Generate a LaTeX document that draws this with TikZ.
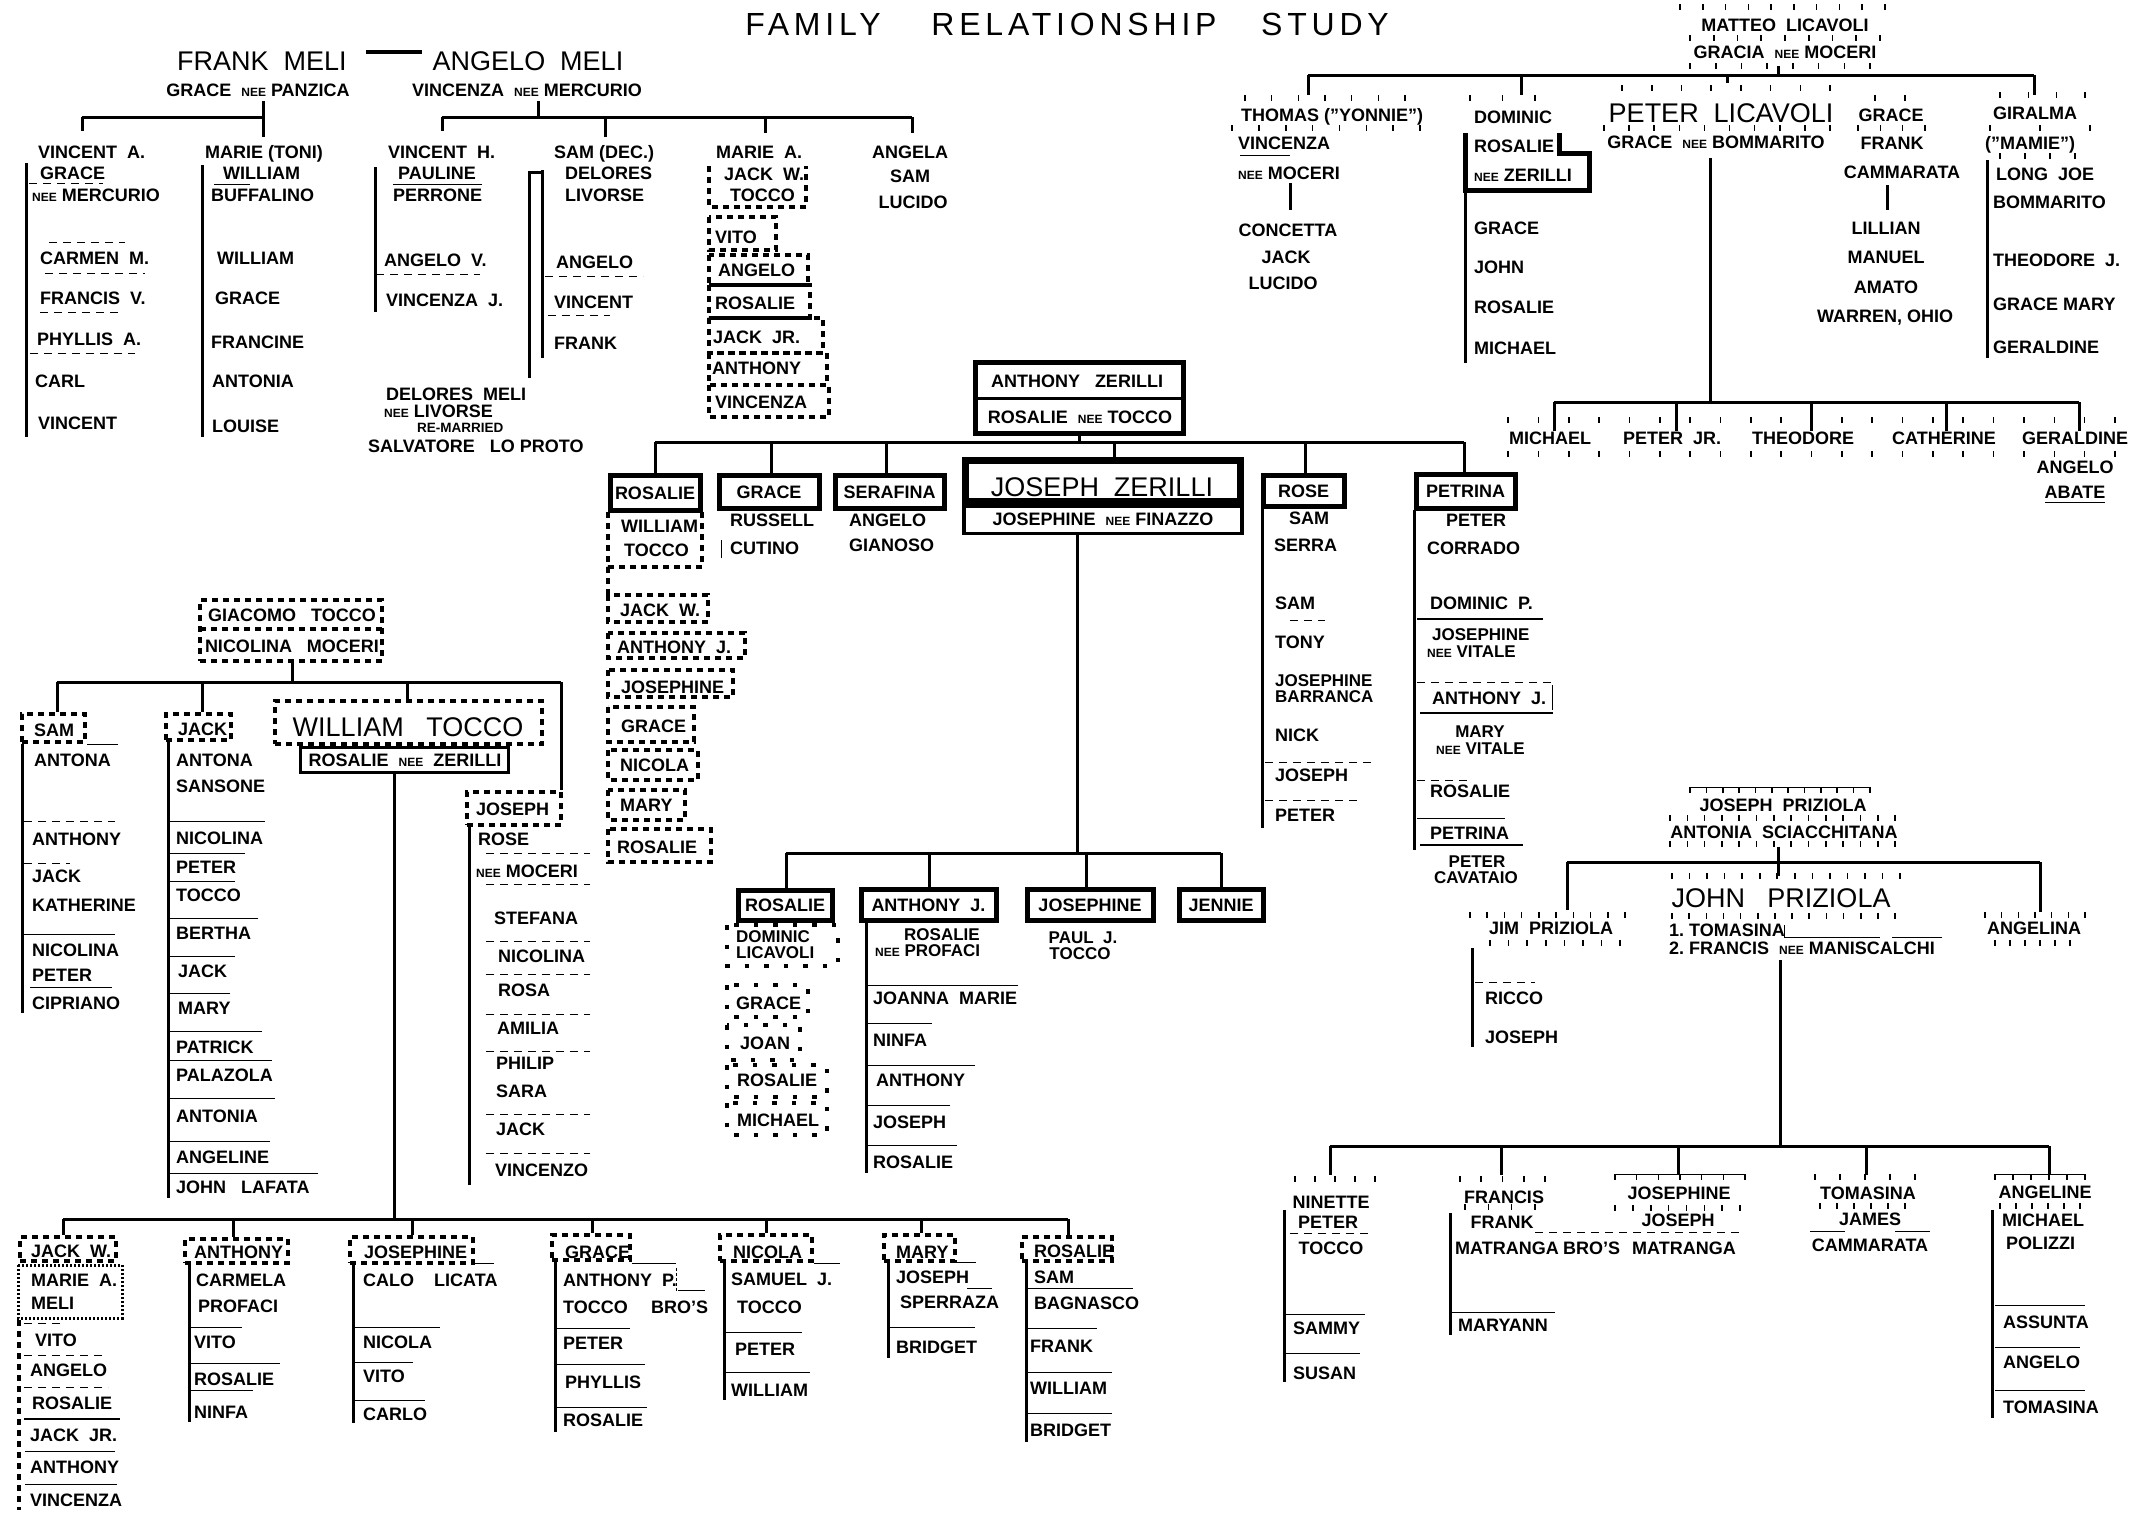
\documentclass[tikz,border=0pt]{standalone}
\usepackage{fontspec}
\setmainfont{Liberation Sans}
\newfontfamily\titlefont[LetterSpace=15]{Liberation Sans}
\usetikzlibrary{calc}
\newcommand{\nee}{{\fontsize{12}{12}\selectfont NEE}}
\newcommand{\tickrow}[4]{\foreach \ti in {0,...,#4}{\draw[tk] ({#1+\ti*(#2-#1)/#4},{#3-3}) -- ++(0,6);}}
\begin{document}
\begin{tikzpicture}[x=1pt,y=-1pt,
 conn/.style={line width=3pt},
 colr/.style={line width=3pt},
 sepl/.style={line width=1pt},
 fsep/.style={line width=1pt, dash pattern=on 8pt off 6pt},
 tk/.style={line width=1.6pt},
 tbox/.style={draw, line width=5pt, inner sep=0pt, font=\fontsize{18}{20}\selectfont\bfseries, text height=13pt, text depth=0pt},
 dbox/.style={line width=4.5pt, dash pattern=on 6pt off 5pt},
 dotbox/.style={line width=4.5pt, dash pattern=on 4.5pt off 15pt},
 nm/.style={font=\fontsize{18}{20}\selectfont\bfseries, inner sep=0pt, anchor=west, text height=13pt, text depth=0pt},
 nc/.style={font=\fontsize{18}{20}\selectfont\bfseries, inner sep=0pt, text height=13pt, text depth=0pt},
 ns/.style={font=\fontsize{17}{18}\selectfont\bfseries, inner sep=0pt, text height=12.2pt, text depth=0pt},
 nsw/.style={ns, anchor=west},
 big/.style={font=\fontsize{27}{29}\selectfont, inner sep=0pt, text height=19.5pt, text depth=0pt},
 sm/.style={font=\fontsize{13.5}{14}\selectfont\bfseries, inner sep=0pt, anchor=west, text height=9.7pt, text depth=0pt},
 titlef/.style={font=\titlefont\fontsize{32}{34}\selectfont, inner sep=0pt, text height=23pt, text depth=0pt}]
\useasboundingbox (0,0) rectangle (2145,1513);
\fill[white] (0,0) rectangle (2145,1513);

% ---------- title
\node[titlef] (title1) at (813,24) {FAMILY};
\node[titlef] (title2) at (1074,24) {RELATIONSHIP};
\node[titlef] (title3) at (1325,24) {STUDY};

% ---------- Meli
\node[big] (fm) at (262,61) {FRANK\ \ MELI};
\node[nc] (fmw) at (258,90) {GRACE\ \ \nee\ PANZICA};
\node[big] (am) at (528,61) {ANGELO\ \ MELI};
\node[nc] (amw) at (527,90) {VINCENZA\ \ \nee\ MERCURIO};
\coordinate (fmL) at (366,52); \coordinate (amR) at (422,52);
\draw[line width=4pt] (fmL) -- (amR);

\coordinate (fA) at (263,101); \coordinate (fB) at (263,137); \coordinate (fC) at (263,117);
\coordinate (fD) at (82,117); \coordinate (fE) at (82,131);
\draw[conn] (fA) -- (fB); \draw[conn] (fD) -- (fC); \draw[conn] (fD) -- (fE);

\coordinate (aA) at (538,101); \coordinate (aB) at (538,117);
\coordinate (aL) at (442,117); \coordinate (aR) at (912,117);
\coordinate (aV) at (442,131); \coordinate (aS1) at (605,117); \coordinate (aS2) at (605,137);
\coordinate (aM1) at (765,117); \coordinate (aM2) at (765,133); \coordinate (aG) at (912,133);
\draw[conn] (aA) -- (aB); \draw[conn] (aL) -- (aR); \draw[conn] (aL) -- (aV);
\draw[conn] (aS1) -- (aS2); \draw[conn] (aM1) -- (aM2); \draw[conn] (aR) -- (aG);

% Vincent A.
\node[nm] (va1) at (38,152) {VINCENT\ \ A.};
\node[nm] (va2) at (40,173) {GRACE};
\node[nm] (va3) at (32,195) {\nee\ MERCURIO};
\node[nm] (va4) at (40,258) {CARMEN\ \ M.};
\node[nm] (va5) at (40,298) {FRANCIS\ \ V.};
\node[nm] (va6) at (37,339) {PHYLLIS\ \ A.};
\node[nm] (va7) at (35,381) {CARL};
\node[nm] (va8) at (38,423) {VINCENT};
\draw[colr] (26,163) -- (26,437);
\draw[fsep] (29,183) -- (103,183);
\draw[fsep] (49,242) -- (125,242);
\draw[fsep] (45,273) -- (145,273);
\draw[fsep] (40,312) -- (120,312);
\draw[fsep] (30,353) -- (135,353);

% Marie (Toni)
\node[nm] (mt1) at (205,152) {MARIE\ (TONI)};
\node[nm] (mt2) at (223,173) {WILLIAM};
\node[nm] (mt3) at (211,195) {BUFFALINO};
\node[nm] (mt4) at (217,258) {WILLIAM};
\node[nm] (mt5) at (215,298) {GRACE};
\node[nm] (mt6) at (211,342) {FRANCINE};
\node[nm] (mt7) at (212,381) {ANTONIA};
\node[nm] (mt8) at (212,426) {LOUISE};
\draw[colr] (202,165) -- (202,437);
\draw[sepl] (214,184) -- (250,184);

% Vincent H.
\node[nm] (vh1) at (388,152) {VINCENT\ \ H.};
\node[nc] (vh2) at (437,173) {PAULINE};
\draw[sepl] (393,184) -- (482,184);
\node[nm] (vh3) at (393,195) {PERRONE};
\node[nm] (vh4) at (384,260) {ANGELO\ \ V.};
\node[nm] (vh5) at (386,300) {VINCENZA\ \ J.};
\draw[colr] (375,167) -- (375,312);
\draw[fsep] (376,274) -- (480,274);

% Sam (Dec.)
\node[nm] (sd1) at (554,152) {SAM\ (DEC.)};
\node[nm] (sd2) at (565,173) {DELORES};
\node[nm] (sd3) at (565,195) {LIVORSE};
\node[nm] (sd4) at (556,262) {ANGELO};
\node[nm] (sd5) at (554,302) {VINCENT};
\node[nm] (sd6) at (554,343) {FRANK};
\draw[colr] (542,170) -- (542,358);
\coordinate (dl1) at (542,172); \coordinate (dl2) at (529,172); \coordinate (dl3) at (529,378);
\draw[conn] (dl1) -- (dl2) -- (dl3);
\draw[fsep] (545,276) -- (643,276);
\draw[fsep] (548,315) -- (610,315);

% Delores Meli
\node[nm] (dm1) at (386,394) {DELORES\ \ MELI};
\node[nm] (dm2) at (384,411) {\nee\ LIVORSE};
\node[sm] (dm3) at (417,428) {RE-MARRIED};
\node[nm] (dm4) at (368,446) {SALVATORE\ \ \ LO PROTO};

% Marie A.
\node[nm] (ma1) at (716,152) {MARIE\ \ A.};
\node[nm] (ma2) at (724,174) {JACK\ \ W.};
\node[nm] (ma3) at (730,195) {TOCCO};
\node[nm] (ma4) at (715,237) {VITO};
\node[nm] (ma5) at (718,270) {ANGELO};
\node[nm] (ma6) at (715,303) {ROSALIE};
\node[nm] (ma7) at (713,337) {JACK\ \ JR.};
\node[nm] (ma8) at (712,368) {ANTHONY};
\node[nm] (ma9) at (715,402) {VINCENZA};
\draw[dbox] (709,166) -- (709,207) -- (806,207) -- (806,166);
\draw[dbox] (709,217) rectangle (776,250);
\draw[dbox] (709,255) rectangle (808,285);
\draw[dbox] (709,285) rectangle (810,318);
\draw[dbox] (709,318) rectangle (823,353);
\draw[dbox] (709,353) rectangle (827,385);
\draw[dbox] (709,385) rectangle (829,417);

% Angela
\node[nc] (an1) at (910,152) {ANGELA};
\node[nc] (an2) at (910,176) {SAM};
\node[nc] (an3) at (913,202) {LUCIDO};

% ---------- Anthony Zerilli
\node[draw, line width=5pt, minimum width=208pt, minimum height=71pt, inner sep=0pt] (azbox) at (1079,397.5) {};
\draw[line width=3pt] (975,398) -- (1183,398);
\node[nc] (az1) at (1077,381) {ANTHONY\ \ \ ZERILLI};
\node[nc] (az2) at (1080,417) {ROSALIE\ \ \nee\ TOCCO};

\node[tbox, minimum width=90pt, minimum height=35pt] (zr1) at (655,492.5) {ROSALIE};
\node[tbox, minimum width=100pt, minimum height=33pt] (zr2) at (769,491.5) {GRACE};
\node[tbox, minimum width=109pt, minimum height=33pt] (zr3) at (889.5,491.5) {SERAFINA};
\node[draw, line width=7pt, minimum width=275pt, minimum height=41pt, inner sep=0pt] (jzt) at (1103,481) {};
\node[draw, line width=3.5pt, minimum width=278pt, minimum height=27pt, inner sep=0pt] (jzb) at (1103,520) {};
\node[big] (jz0) at (1102,487) {JOSEPH\ \ ZERILLI};
\node[nc] (jz00) at (1103,519) {JOSEPHINE\ \ \nee\ FINAZZO};
\node[tbox, minimum width=81pt, minimum height=31pt] (zr5) at (1303.5,490.5) {ROSE};
\node[tbox, minimum width=99pt, minimum height=34pt] (zr6) at (1465.5,491) {PETRINA};

\coordinate (zA) at (1079,442); \coordinate (zL) at (655,442); \coordinate (zR) at (1464,442);
\coordinate (z2) at (771,442); \coordinate (z3) at (886,442); \coordinate (z4) at (1114,442); \coordinate (z5) at (1305,442);
\draw[conn] (azbox.south) -- (zA); \draw[conn] (zL) -- (zR);
\draw[conn] (zL) -- (zL |- zr1.north); \draw[conn] (z2) -- (z2 |- zr2.north);
\draw[conn] (z3) -- (z3 |- zr3.north); \draw[conn] (z4) -- (z4 |- jzt.north);
\draw[conn] (z5) -- (z5 |- zr5.north); \draw[conn] (zR) -- (zR |- zr6.north);

% Rosalie & William Tocco
\node[nm] (rt1) at (621,526) {WILLIAM};
\node[nm] (rt2) at (624,550) {TOCCO};
\draw[dbox] (608,512) -- (608,567) -- (702,567) -- (702,512);
\draw[dbox] (608,567) -- (608,595);
\node[nm] (rt3) at (620,610) {JACK\ \ W.};
\node[nm] (rt4) at (617,647) {ANTHONY\ \ J.};
\node[nm] (rt5) at (621,687) {JOSEPHINE};
\node[nm] (rt6) at (621,726) {GRACE};
\node[nm] (rt7) at (620,765) {NICOLA};
\node[nm] (rt8) at (620,805) {MARY};
\node[nm] (rt9) at (617,847) {ROSALIE};
\draw[dbox] (608,595) rectangle (708,622);
\draw[dbox] (608,633) rectangle (745,658);
\draw[dbox] (608,670) rectangle (733,697);
\draw[dbox] (608,707) rectangle (694,742);
\draw[dbox] (608,750) rectangle (698,780);
\draw[dbox] (608,790) rectangle (685,820);
\draw[dbox] (608,829) rectangle (711,862);

% Grace Russell Cutino
\node[nm] (gc1) at (730,520) {RUSSELL};
\node[nm] (gc2) at (730,548) {CUTINO};
\draw[sepl] (721,540) -- (721,558);
% Serafina
\node[nm] (sf1) at (849,520) {ANGELO};
\node[nm] (sf2) at (849,545) {GIANOSO};

% Rose
\node[nm] (ro1) at (1289,518) {SAM};
\node[nm] (ro2) at (1274,545) {SERRA};
\draw[colr] (1262,508) -- (1262,828);
\node[nm] (ro3) at (1275,603) {SAM};
\node[nm] (ro4) at (1275,642) {TONY};
\node[nsw] (ro5) at (1275,680) {JOSEPHINE};
\node[nsw] (ro6) at (1275,696) {BARRANCA};
\node[nm] (ro7) at (1275,735) {NICK};
\node[nm] (ro8) at (1275,775) {JOSEPH};
\node[nm] (ro9) at (1275,815) {PETER};
\draw[fsep] (1290,620) -- (1325,620);
\draw[fsep] (1265,762) -- (1375,762);
\draw[fsep] (1265,800) -- (1360,800);

% Petrina
\node[nm] (pe1) at (1446,520) {PETER};
\node[nm] (pe2) at (1427,548) {CORRADO};
\draw[colr] (1414,510) -- (1414,850);
\node[nm] (pe3) at (1430,603) {DOMINIC\ \ P.};
\draw[line width=2.5pt] (1417,619) -- (1543,619);
\node[nsw] (pe4) at (1432,634) {JOSEPHINE};
\node[nsw] (pe5) at (1427,651) {\nee\ VITALE};
\draw[fsep] (1417,682) -- (1555,682);
\node[nm] (pe6) at (1432,698) {ANTHONY\ \ J.};
\draw[sepl] (1552,685) -- (1552,710);
\draw[line width=2.5pt] (1420,713) -- (1553,713);
\node[ns] (pe7) at (1480,731) {MARY};
\node[nsw] (pe8) at (1436,748) {\nee\ VITALE};
\draw[fsep] (1417,780) -- (1470,780);
\node[nm] (pe9) at (1430,791) {ROSALIE};
\draw[sepl] (1417,818) -- (1505,818);
\node[nm] (pe10) at (1430,833) {PETRINA};
\draw[line width=2.5pt] (1420,845) -- (1523,845);
\node[ns] (pe11) at (1477,861) {PETER};
\node[ns] (pe12) at (1476,877) {CAVATAIO};

% ---------- Joseph Zerilli's children
\coordinate (jB) at (1077,853); \coordinate (jL) at (786,853); \coordinate (jR) at (1221,853);
\coordinate (j2) at (929,853); \coordinate (j3) at (1086,853);
\draw[conn] (jzb.south -| jB) -- (jB); \draw[conn] (jL) -- (jR);
\node[tbox, minimum width=94pt, minimum height=30pt] (jz1) at (785,905) {ROSALIE};
\node[tbox, minimum width=135pt, minimum height=31pt] (jz2) at (928.5,904.5) {ANTHONY\ \ J.};
\node[tbox, minimum width=126pt, minimum height=31pt] (jz3) at (1090,904.5) {JOSEPHINE};
\node[tbox, minimum width=84pt, minimum height=31pt] (jz4) at (1221,904.5) {JENNIE};
\draw[conn] (jL) -- (jL |- jz1.north); \draw[conn] (j2) -- (j2 |- jz2.north);
\draw[conn] (j3) -- (j3 |- jz3.north); \draw[conn] (jR) -- (jR |- jz4.north);

% Rosalie & Dominic Licavoli
\node[nsw] (rl1) at (736,936) {DOMINIC};
\node[nsw] (rl2) at (736,952) {LICAVOLI};
\draw[dotbox] (727,925) rectangle (838,966);
\node[nm] (rl3) at (736,1003) {GRACE};
\draw[dotbox] (727,985) rectangle (808,1017);
\node[nm] (rl4) at (740,1043) {JOAN};
\draw[dotbox] (727,1025) rectangle (800,1060);
\node[nm] (rl5) at (737,1080) {ROSALIE};
\draw[dotbox] (727,1065) rectangle (827,1097);
\node[nm] (rl6) at (737,1120) {MICHAEL};
\draw[dotbox] (727,1103) rectangle (827,1135);

% Anthony J. Zerilli
\node[nsw] (aj1) at (904,934) {ROSALIE};
\node[nsw] (aj2) at (875,950) {\nee\ PROFACI};
\draw[colr] (866,922) -- (866,1173);
\node[nm] (aj3) at (873,998) {JOANNA\ \ MARIE};
\node[nm] (aj4) at (873,1040) {NINFA};
\node[nm] (aj5) at (876,1080) {ANTHONY};
\node[nm] (aj6) at (873,1122) {JOSEPH};
\node[nm] (aj7) at (873,1162) {ROSALIE};
\draw[sepl] (868,985) -- (1018,985);
\draw[sepl] (868,1023) -- (932,1023);
\draw[sepl] (868,1065) -- (975,1065);
\draw[sepl] (868,1105) -- (950,1105);
\draw[sepl] (868,1145) -- (957,1145);

% Josephine / Paul J. Tocco
\node[ns] (jp1) at (1083,937) {PAUL\ \ J.};
\node[ns] (jp2) at (1080,953) {TOCCO};

% ---------- Giacomo Tocco
\node[draw, dbox, minimum width=182pt, minimum height=61pt, inner sep=0pt] (gtbox) at (291,630.5) {};
\draw[dbox] (200,629) -- (382,629);
\node[nc] (gt1) at (292,615) {GIACOMO\ \ \ TOCCO};
\node[nc] (gt2) at (292,646) {NICOLINA\ \ \ MOCERI};
\coordinate (gA) at (292,682); \coordinate (gL) at (57,682); \coordinate (gR) at (561,682);
\coordinate (g2) at (202,682); \coordinate (g3) at (407,682);
\draw[conn] (gtbox.south -| gA) -- (gA); \draw[conn] (gL) -- (gR);

% Sam Antona
\node[draw, dbox, minimum width=63pt, minimum height=28pt, inner sep=0pt] (samb) at (53.5,728) {};
\draw[conn] (gL) -- (gL |- samb.north);
\node[nm] (sa1) at (34,730) {SAM};
\draw[sepl] (87,744) -- (118,744);
\node[nm] (sa2) at (34,760) {ANTONA};
\draw[colr] (22,744) -- (22,1013);
\node[nm] (sa3) at (32,839) {ANTHONY};
\node[nm] (sa4) at (32,876) {JACK};
\node[nm] (sa5) at (32,905) {KATHERINE};
\node[nm] (sa6) at (32,950) {NICOLINA};
\node[nm] (sa7) at (32,975) {PETER};
\node[nm] (sa8) at (32,1003) {CIPRIANO};
\draw[fsep] (24,821) -- (115,821);
\draw[fsep] (24,863) -- (70,863);
\draw[sepl] (24,934) -- (115,934);
\draw[sepl] (30,987) -- (112,987);

% Jack Antona
\node[draw, dbox, minimum width=65pt, minimum height=26pt, inner sep=0pt] (jackb) at (198.5,727) {};
\draw[conn] (g2) -- (g2 |- jackb.north);
\node[nm] (ja1) at (178,729) {JACK};
\node[nm] (ja2) at (176,760) {ANTONA};
\node[nm] (ja3) at (176,786) {SANSONE};
\draw[colr] (168,742) -- (168,1198);
\node[nm] (ja4) at (176,838) {NICOLINA};
\node[nm] (ja5) at (176,867) {PETER};
\node[nm] (ja6) at (176,895) {TOCCO};
\node[nm] (ja7) at (176,933) {BERTHA};
\node[nm] (ja8) at (178,971) {JACK};
\node[nm] (ja9) at (178,1008) {MARY};
\node[nm] (ja10) at (176,1047) {PATRICK};
\node[nm] (ja11) at (176,1075) {PALAZOLA};
\node[nm] (ja12) at (176,1116) {ANTONIA};
\node[nm] (ja13) at (176,1157) {ANGELINE};
\node[nm] (ja14) at (176,1187) {JOHN\ \ \ LAFATA};
\foreach \yy/\xx in {821/265,853/245,881/235,918/258,956/235,993/230,1031/262,1060/272,1098/275,1141/270,1173/318}{\draw[sepl] (170,\yy) -- (\xx,\yy);}

% William Tocco
\node[draw, dbox, minimum width=267pt, minimum height=43pt, inner sep=0pt] (wtbox) at (408.5,722.5) {};
\node[draw, line width=3pt, minimum width=208pt, minimum height=25pt, inner sep=0pt] (wrbox) at (404.5,760) {};
\node[big] (wt1) at (408,727) {WILLIAM\ \ \ TOCCO};
\node[nc] (wt2) at (405,760) {ROSALIE\ \ \nee\ \ ZERILLI};
\draw[conn] (g3) -- (g3 |- wtbox.north);

% Joseph Tocco
\node[draw, dbox, minimum width=94pt, minimum height=33pt, inner sep=0pt] (jrbox) at (514,808.5) {};
\draw[conn] (gR) -- (gR |- jrbox.north);
\node[nm] (jr1) at (476,809) {JOSEPH};
\node[nm] (jr2) at (478,839) {ROSE};
\node[nm] (jr3) at (476,871) {\nee\ MOCERI};
\draw[colr] (469,827) -- (469,1185);
\node[nm] (jr4) at (494,918) {STEFANA};
\node[nm] (jr5) at (498,956) {NICOLINA};
\node[nm] (jr6) at (498,990) {ROSA};
\node[nm] (jr7) at (497,1028) {AMILIA};
\node[nm] (jr8) at (496,1063) {PHILIP};
\node[nm] (jr9) at (496,1091) {SARA};
\node[nm] (jr10) at (496,1129) {JACK};
\node[nm] (jr11) at (495,1170) {VINCENZO};
\foreach \yy in {853,884,941,974,1014,1051,1114,1153}{\draw[fsep] (486,\yy) -- (590,\yy);}

% ---------- William Tocco's children
\coordinate (wB) at (394,1219); \coordinate (wL) at (63,1219); \coordinate (wR) at (1068,1219);
\coordinate (w2) at (233,1219); \coordinate (w3) at (412,1219); \coordinate (w4) at (592,1219);
\coordinate (w5) at (766,1219); \coordinate (w6) at (921,1219);
\draw[conn] (wrbox.south -| wB) -- (wB); \draw[conn] (wL) -- (wR);

\node[draw, dbox, minimum width=96pt, minimum height=24pt, inner sep=0pt] (jwb) at (68,1249) {};
\node[draw, dbox, minimum width=103pt, minimum height=24pt, inner sep=0pt] (atb) at (236.5,1251) {};
\node[draw, dbox, minimum width=123pt, minimum height=26pt, inner sep=0pt] (jcb) at (411.5,1250) {};
\node[draw, dbox, minimum width=78pt, minimum height=25pt, inner sep=0pt] (grb) at (591,1247.5) {};
\node[draw, dbox, minimum width=92pt, minimum height=26pt, inner sep=0pt] (ncb) at (766,1248) {};
\node[draw, dbox, minimum width=71pt, minimum height=26pt, inner sep=0pt] (myb) at (919.5,1248) {};
\node[draw, dbox, minimum width=90pt, minimum height=24pt, inner sep=0pt] (rbb) at (1067,1249) {};
\draw[conn] (wL) -- (wL |- jwb.north); \draw[conn] (w2) -- (w2 |- atb.north);
\draw[conn] (w3) -- (w3 |- jcb.north); \draw[conn] (w4) -- (w4 |- grb.north);
\draw[conn] (w5) -- (w5 |- ncb.north); \draw[conn] (w6) -- (w6 |- myb.north);
\draw[conn] (wR) -- (wR |- rbb.north);

% Jack W. / Marie A. Meli
\node[nm] (jw1) at (31,1251) {JACK\ \ W.};
\draw[line width=3pt, dash pattern=on 2pt off 2pt] (18,1265) rectangle (122,1318);
\node[nm] (jw2) at (31,1280) {MARIE\ \ A.};
\node[nm] (jw3) at (31,1303) {MELI};
\draw[dbox] (19,1320) -- (19,1510);
\node[nm] (jw4) at (35,1340) {VITO};
\node[nm] (jw5) at (30,1370) {ANGELO};
\node[nm] (jw6) at (32,1403) {ROSALIE};
\node[nm] (jw7) at (30,1435) {JACK\ \ JR.};
\node[nm] (jw8) at (30,1467) {ANTHONY};
\node[nm] (jw9) at (30,1500) {VINCENZA};
\draw[fsep] (24,1323) -- (65,1323);
\draw[fsep] (24,1355) -- (105,1355);
\draw[fsep] (24,1387) -- (108,1387);
\draw[line width=1.8pt] (24,1419) -- (120,1419);
\draw[sepl] (25,1451) -- (115,1451);
\draw[sepl] (25,1484) -- (117,1484);

% Anthony / Carmela Profaci
\node[nm] (at1) at (194,1252) {ANTHONY};
\node[nm] (at2) at (196,1280) {CARMELA};
\node[nm] (at3) at (198,1306) {PROFACI};
\draw[colr] (189,1265) -- (189,1422);
\node[nm] (at4) at (194,1342) {VITO};
\node[nm] (at5) at (194,1379) {ROSALIE};
\node[nm] (at6) at (194,1412) {NINFA};
\draw[sepl] (190,1327) -- (242,1327);
\draw[sepl] (190,1363) -- (280,1363);
\draw[sepl] (190,1390) -- (253,1390);

% Josephine / Calo Licata
\node[nm] (jc1) at (364,1252) {JOSEPHINE};
\draw[sepl] (475,1263) -- (494,1263);
\node[nm] (jc2) at (363,1280) {CALO\ \ \ \ LICATA};
\draw[colr] (353,1265) -- (353,1423);
\node[nm] (jc3) at (363,1342) {NICOLA};
\node[nm] (jc4) at (363,1376) {VITO};
\node[nm] (jc5) at (363,1414) {CARLO};
\draw[sepl] (355,1327) -- (440,1327);
\draw[sepl] (355,1362) -- (413,1362);
\draw[sepl] (355,1400) -- (425,1400);

% Grace / Anthony P. Tocco
\node[nm] (gr1) at (565,1252) {GRACE};
\draw[sepl] (632,1263) -- (676,1263);
\node[nm] (gr2) at (563,1280) {ANTHONY\ \ P.};
\draw[sepl, dash pattern=on 3pt off 2pt] (676,1268) -- (676,1292);
\draw[sepl] (678,1290) -- (705,1290);
\node[nm] (gr3) at (563,1307) {TOCCO};
\node[nm] (gr4) at (651,1307) {BRO'S};
\draw[colr] (555,1262) -- (555,1432);
\node[nm] (gr5) at (563,1343) {PETER};
\node[nm] (gr6) at (565,1382) {PHYLLIS};
\node[nm] (gr7) at (563,1420) {ROSALIE};
\draw[sepl] (557,1328) -- (630,1328);
\draw[sepl] (557,1364) -- (645,1364);
\draw[sepl] (557,1407) -- (647,1407);

% Nicola / Samuel J. Tocco
\node[nm] (nc1) at (733,1252) {NICOLA};
\draw[sepl] (814,1263) -- (840,1263);
\node[nm] (nc2) at (731,1279) {SAMUEL\ \ J.};
\node[nm] (nc3) at (737,1307) {TOCCO};
\draw[colr] (724,1263) -- (724,1400);
\node[nm] (nc4) at (735,1349) {PETER};
\node[nm] (nc5) at (731,1390) {WILLIAM};
\draw[sepl] (726,1332) -- (802,1332);
\draw[sepl] (726,1372) -- (810,1372);

% Mary / Joseph Sperraza
\node[nm] (my1) at (896,1252) {MARY};
\draw[sepl] (957,1262) -- (976,1262);
\node[nm] (my2) at (896,1277) {JOSEPH};
\draw[sepl] (967,1288) -- (992,1288);
\node[nm] (my3) at (900,1302) {SPERRAZA};
\draw[colr] (888,1263) -- (888,1358);
\node[nm] (my4) at (896,1347) {BRIDGET};
\draw[sepl] (890,1327) -- (975,1327);

% Rosalie / Sam Bagnasco
\node[nm] (rb1) at (1034,1251) {ROSALIE};
\node[nm] (rb2) at (1034,1277) {SAM};
\draw[sepl] (1028,1288) -- (1133,1288);
\node[nm] (rb3) at (1034,1303) {BAGNASCO};
\draw[colr] (1026,1263) -- (1026,1442);
\node[nm] (rb4) at (1030,1346) {FRANK};
\node[nm] (rb5) at (1030,1388) {WILLIAM};
\node[nm] (rb6) at (1030,1430) {BRIDGET};
\draw[sepl] (1028,1328) -- (1097,1328);
\draw[sepl] (1028,1372) -- (1112,1372);
\draw[sepl] (1028,1413) -- (1112,1413);

% ---------- Licavoli
\node[nc] (ml1) at (1785,25) {MATTEO\ \ LICAVOLI};
\node[nc] (ml2) at (1785,52) {GRACIA\ \ \nee\ MOCERI};
\tickrow{1680}{1885}{7}{9}
\tickrow{1690}{1880}{38}{8}
\tickrow{1690}{1870}{66}{7}
\coordinate (lA) at (1778,66); \coordinate (lB) at (1778,75);
\coordinate (lL) at (1308,75); \coordinate (lR) at (2034,75);
\coordinate (l2) at (1521,75); \coordinate (l3) at (1727,75); \coordinate (l3b) at (1727,83);
\coordinate (lL2) at (1308,95); \coordinate (l22) at (1521,95); \coordinate (lR2) at (2034,95);
\draw[conn] (lA) -- (lB); \draw[conn] (lL) -- (lR);
\draw[conn] (lL) -- (lL2); \draw[conn] (l2) -- (l22); \draw[conn] (lR) -- (lR2); \draw[conn] (l3) -- (l3b);

% Thomas
\node[nm] (th1) at (1241,115) {THOMAS\ ("YONNIE")};
\tickrow{1245}{1405}{98}{6}
\tickrow{1232}{1420}{128}{7}
\node[nm] (th2) at (1238,143) {VINCENZA};
\draw[sepl] (1240,155) -- (1290,155);
\node[nm] (th3) at (1238,173) {\nee\ MOCERI};
\draw[conn] (1290,183) -- (1290,210);
\node[nc] (th4) at (1288,230) {CONCETTA};
\node[nc] (th5) at (1286,257) {JACK};
\node[nc] (th6) at (1283,283) {LUCIDO};

% Dominic
\node[nm] (do1) at (1474,117) {DOMINIC};
\tickrow{1470}{1535}{98}{2}
\node[nm] (do2) at (1474,146) {ROSALIE};
\node[nm] (do3) at (1474,175) {\nee\ ZERILLI};
\draw[line width=5pt] (1465,133) -- (1465,190) -- (1589,190) -- (1589,153) -- (1559,153) -- (1559,133);
\draw[colr] (1465,190) -- (1465,363);
\node[nm] (do4) at (1474,228) {GRACE};
\node[nm] (do5) at (1474,267) {JOHN};
\node[nm] (do6) at (1474,307) {ROSALIE};
\node[nm] (do7) at (1474,348) {MICHAEL};

% Peter Licavoli
\node[big] (pl1) at (1721,113) {PETER\ \ LICAVOLI};
\node[nc] (pl2) at (1716,142) {GRACE\ \ \nee\ BOMMARITO};
\tickrow{1622}{1830}{88}{7}
\tickrow{1604}{1830}{128}{9}
\coordinate (pA) at (1710,158); \coordinate (pB) at (1710,402);
\coordinate (pL) at (1554,402); \coordinate (pR) at (2079,402);
\coordinate (p2) at (1676,402); \coordinate (p3) at (1811,402); \coordinate (p4) at (1946,402);
\draw[conn] (pA) -- (pB); \draw[conn] (pL) -- (pR);

% Grace Cammarata
\node[nc] (gca1) at (1891,115) {GRACE};
\tickrow{1875}{1905}{98}{1}
\tickrow{1858}{1925}{128}{3}
\node[nc] (gca2) at (1892,143) {FRANK};
\node[nc] (gca3) at (1902,172) {CAMMARATA};
\draw[conn] (1887,185) -- (1887,210);
\node[nc] (gca4) at (1886,228) {LILLIAN};
\node[nc] (gca5) at (1886,257) {MANUEL};
\node[nc] (gca6) at (1886,287) {AMATO};
\node[nc] (gca7) at (1885,316) {WARREN,\ OHIO};

% Giralma
\node[nc] (gi1) at (2035,113) {GIRALMA};
\tickrow{2000}{2085}{95}{3}
\tickrow{1990}{2090}{128}{2}
\node[nc] (gi2) at (2030,143) {("MAMIE")};
\tickrow{2000}{2075}{156}{3}
\draw[colr] (1987,160) -- (1987,358);
\node[nm] (gi3) at (1996,174) {LONG\ \ JOE};
\node[nm] (gi4) at (1993,202) {BOMMARITO};
\node[nm] (gi5) at (1993,260) {THEODORE\ \ J.};
\node[nm] (gi6) at (1993,304) {GRACE\ MARY};
\node[nm] (gi7) at (1993,347) {GERALDINE};

% Peter Licavoli's children
\node[nc] (pk1) at (1550,438) {MICHAEL};
\node[nc] (pk2) at (1672,438) {PETER\ \ JR.};
\node[nc] (pk3) at (1803,438) {THEODORE};
\node[nc] (pk4) at (1944,438) {CATHERINE};
\node[nc] (pk5) at (2075,438) {GERALDINE};
\node[nc] (pk6) at (2075,467) {ANGELO};
\node[nc] (pk7) at (2075,492) {ABATE};
\draw[sepl] (2045,502) -- (2105,502);
\draw[conn] (pL) -- (pL |- pk1.north); \draw[conn] (p2) -- (p2 |- pk2.north);
\draw[conn] (p3) -- (p3 |- pk3.north); \draw[conn] (p4) -- (p4 |- pk4.north);
\draw[conn] (pR) -- (pR |- pk5.north);
\tickrow{1508}{2115}{420}{20}
\tickrow{1508}{2115}{454}{20}

% ---------- Priziola
\node[nc] (jpz1) at (1783,805) {JOSEPH\ \ PRIZIOLA};
\node[nc] (jpz2) at (1784,832) {ANTONIA\ \ SCIACCHITANA};
\draw[sepl] (1690,787) -- (1870,787);
\tickrow{1690}{1870}{790}{11}
\tickrow{1670}{1895}{818}{13}
\tickrow{1670}{1895}{844}{13}
\coordinate (qA) at (1778,847); \coordinate (qB) at (1778,876);
\coordinate (qL) at (1567,862); \coordinate (qR) at (2040,862);
\coordinate (qL2) at (1567,910); \coordinate (qR2) at (2040,912);
\draw[conn] (qA) -- (qB); \draw[conn] (qL) -- (qR);
\draw[conn] (qL) -- (qL2); \draw[conn] (qR) -- (qR2);
\node[big] (jpz3) at (1781,898) {JOHN\ \ \ PRIZIOLA};
\tickrow{1672}{1900}{876}{13}
\tickrow{1672}{1895}{916}{13}
\node[nm] (jpz4) at (1669,930) {1.\ TOMASINA};
\draw[sepl] (1784,925) -- (1784,937) -- (1880,937);
\draw[sepl] (1892,937) -- (1942,937);
\node[nc] (jpz5) at (1802,948) {2.\ FRANCIS\ \ \nee\ MANISCALCHI};

\node[nc] (ji1) at (1551,928) {JIM\ \ PRIZIOLA};
\tickrow{1470}{1625}{915}{9}
\tickrow{1490}{1620}{943}{7}
\node[nc] (ag1) at (2034,928) {ANGELINA};
\tickrow{1985}{2085}{915}{6}
\tickrow{1995}{2070}{943}{5}
\draw[colr] (1472,948) -- (1472,1047);
\node[nm] (ji2) at (1485,998) {RICCO};
\node[nm] (ji3) at (1485,1037) {JOSEPH};
\draw[fsep] (1475,982) -- (1535,982);

% John Priziola's children
\coordinate (kA) at (1780,960); \coordinate (kB) at (1780,1146);
\coordinate (kL) at (1330,1146); \coordinate (kR) at (2049,1146);
\coordinate (k2) at (1501,1146); \coordinate (k3) at (1678,1146); \coordinate (k4) at (1866,1146);
\coordinate (kL2) at (1330,1175); \coordinate (k22) at (1501,1175); \coordinate (k32) at (1678,1175);
\coordinate (k42) at (1866,1175); \coordinate (kR2) at (2049,1175);
\draw[conn] (kA) -- (kB); \draw[conn] (kL) -- (kR);
\draw[conn] (kL) -- (kL2); \draw[conn] (k2) -- (k22); \draw[conn] (k3) -- (k32);
\draw[conn] (k4) -- (k42); \draw[conn] (kR) -- (kR2);

% Ninette
\node[nc] (ni1) at (1331,1202) {NINETTE};
\tickrow{1295}{1375}{1179}{4}
\node[nc] (ni2) at (1328,1222) {PETER};
\draw[fsep] (1290,1233) -- (1370,1233);
\node[nc] (ni3) at (1331,1248) {TOCCO};
\draw[colr] (1284,1210) -- (1284,1382);
\node[nm] (ni4) at (1293,1328) {SAMMY};
\node[nm] (ni5) at (1293,1373) {SUSAN};
\draw[sepl] (1285,1314) -- (1365,1314);
\draw[sepl] (1285,1353) -- (1360,1353);

% Francis
\node[nc] (fr1) at (1504,1197) {FRANCIS};
\tickrow{1460}{1545}{1179}{4}
\tickrow{1465}{1535}{1207}{3}
\node[nc] (fr2) at (1502,1222) {FRANK};
\node[nm] (fr3) at (1455,1248) {MATRANGA};
\node[nm] (fr4) at (1563,1248) {BRO'S};
\draw[fsep] (1535,1232) -- (1741,1232);
\draw[colr] (1450,1213) -- (1450,1335);
\node[nm] (fr5) at (1458,1325) {MARYANN};
\draw[sepl] (1452,1312) -- (1555,1312);

% Josephine
\node[nc] (jm1) at (1679,1193) {JOSEPHINE};
\draw[sepl] (1615,1174) -- (1745,1174);
\tickrow{1615}{1745}{1177}{6}
\tickrow{1615}{1740}{1208}{7}
\node[nc] (jm2) at (1678,1220) {JOSEPH};
\node[nm] (jm3) at (1632,1248) {MATRANGA};

% Tomasina
\node[nc] (tm1) at (1868,1193) {TOMASINA};
\tickrow{1815}{1915}{1177}{4}
\tickrow{1820}{1905}{1206}{5}
\node[nc] (tm2) at (1870,1219) {JAMES};
\draw[sepl] (1810,1231) -- (1845,1231);
\draw[sepl] (1895,1231) -- (1930,1231);
\node[nc] (tm3) at (1870,1245) {CAMMARATA};

% Angeline
\node[nc] (al1) at (2045,1192) {ANGELINE};
\draw[sepl] (1995,1174) -- (2085,1174);
\tickrow{1995}{2085}{1177}{5}
\tickrow{2000}{2080}{1206}{5}
\node[nc] (al2) at (2043,1220) {MICHAEL};
\node[nm] (al3) at (2006,1243) {POLIZZI};
\draw[colr] (1992,1210) -- (1992,1418);
\node[nm] (al4) at (2003,1322) {ASSUNTA};
\node[nm] (al5) at (2003,1362) {ANGELO};
\node[nm] (al6) at (2003,1407) {TOMASINA};
\draw[sepl] (1995,1305) -- (2085,1305);
\draw[sepl] (1995,1347) -- (2080,1347);
\draw[sepl] (1995,1390) -- (2085,1390);
\end{tikzpicture}
\end{document}
